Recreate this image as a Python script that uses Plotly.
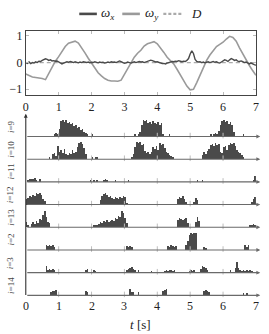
import plotly.graph_objects as go

# ---------------- top panel data ----------------
t_wy = [round(0.1 * k, 2) for k in range(71)]
omega_y = [-0.43, -0.50, -0.54, -0.56, -0.57, -0.60, -0.64, -0.42, -0.15, 0.05,
           0.22, 0.42, 0.60, 0.72, 0.76, 0.80, 0.73, 0.56, 0.36, 0.16,
           -0.02, -0.20, -0.38, -0.50, -0.60, -0.66, -0.69, -0.69, -0.70, -0.66,
           -0.45, -0.20, 0.00, 0.20, 0.35, 0.46, 0.62, 0.70, 0.74, 0.78,
           0.70, 0.55, 0.38, 0.20, 0.07, -0.05, -0.25, -0.45, -0.68, -0.88,
           -1.02, -1.00, -0.75, -0.45, -0.15, 0.08, 0.28, 0.45, 0.60, 0.68,
           0.76, 0.88, 0.98, 0.94, 0.80, 0.55, 0.31, 0.10, -0.11, -0.30,
           -0.48]

t_wx = [round(0.05 * k, 2) for k in range(141)]
omega_x = [0.00, -0.03, 0.02, -0.04, 0.00, -0.02, 0.03, 0.00, 0.05, 0.04,
           0.08, 0.10, 0.14, 0.12, 0.08, 0.10, 0.06, 0.07, 0.05, 0.06,
           0.02, -0.02, -0.05, -0.02, 0.00, 0.03, 0.01, 0.04, 0.02, 0.00,
           0.03, 0.01, -0.01, 0.02, 0.00, 0.03, 0.01, 0.00, 0.02, -0.01,
           0.01, 0.00, 0.03, 0.01, -0.01, 0.02, 0.00, 0.01, -0.02, 0.00,
           0.02, 0.00, 0.03, 0.01, 0.02, 0.00, 0.04, 0.06, 0.03, 0.00,
           -0.03, -0.01, 0.02, 0.00, -0.02, 0.01, 0.03, 0.00, 0.02, 0.04,
           0.02, 0.03, 0.00, 0.02, 0.04, 0.06, 0.09, 0.07, 0.04, 0.02,
           0.03, 0.00, -0.02, -0.04, -0.03, -0.05, -0.02, 0.00, 0.02, 0.04,
           0.03, 0.05, 0.04, 0.07, 0.05, 0.03, 0.05, 0.04, 0.08, 0.15,
           0.32, 0.44, 0.34, 0.12, 0.04, 0.02, 0.03, 0.00, 0.02, -0.01,
           0.01, 0.03, 0.00, 0.02, 0.04, 0.01, 0.03, 0.00, -0.02, 0.02,
           0.05, 0.10, 0.08, 0.04, 0.10, 0.15, 0.12, 0.08, 0.10, 0.05,
           0.04, 0.06, 0.03, 0.00, 0.02, -0.03, -0.05, -0.02, -0.06, -0.08,
           -0.10]

t_D = [0, 7]
D_vals = [0, 0]

x_ticks = [0, 1, 2, 3, 4, 5, 6, 7]
y_ticks_top = [-1, 0, 1]

# ---------------- bottom panel data (activity per 0.05 s bin, 7 rows x 20 bins) ----------------
Z = [0] * 20
strip_names = ["9", "10", "11", "12", "13", "2", "3", "14"]
act_9 = [
    [0,0,0,0,0,0,0,0,0,0,0,0,0,0,0,0,0,3,4,2],
    [8,16,17,15,17,14,15,13,14,11,12,9,10,7,8,5,4,2,0,0],
    [2,0,0,0,0,0,0,0,0,0,0,0,0,0,0,0,0,0,0,0],
    [0,0,0,0,0,0,2,0,3,5,12,17,16,17,14,15,13,16,14,13],
    [15,12,14,3,0,0,0,2,0,0,0,0,0,0,0,0,0,0,0,0],
    [0,0,0,0,0,0,0,0,0,0,0,0,2,0,3,4,3,6,12,16],
    [17,15,16,13,15,12,5,0,0,0,0,0,2,0,0,0,0,0,0,0]]
act_10 = [
    [0,0,0,0,0,0,0,0,0,0,0,0,0,0,2,0,5,6,3,13],
    [7,9,6,10,5,4,6,5,9,6,7,12,16,17,15,11,5,0,0,0],
    [2,0,2,2,0,0,0,0,0,0,0,0,0,0,0,0,0,0,0,0],
    [0,0,0,0,2,5,12,17,16,17,14,15,8,6,7,5,7,12,10,13],
    [9,16,14,15,11,7,6,4,3,2,0,0,0,0,0,0,0,0,0,0],
    [0,0,0,0,0,0,0,4,7,5,8,10,14,15,13,16,14,15,7,6],
    [12,13,9,14,16,15,16,13,9,7,6,4,2,0,0,0,0,0,0,0]]
act_11 = [
    [0,2,3,3,3,4,2,0,3,0,0,0,0,0,0,0,0,0,0,0],
    [0,0,0,0,0,0,0,0,0,0,0,0,0,0,0,0,0,0,0,2],
    [0,2,0,2,0,0,0,2,3,2,0,0,0,0,2,0,0,0,0,0],
    [0,0,2,0,0,0,0,0,0,0,0,0,0,0,0,0,0,0,0,0],
    Z,
    [0,0,0,0,2,0,0,2,0,0,0,0,0,0,0,0,0,0,0,0],
    [0,0,0,0,0,0,0,0,0,0,0,0,0,0,0,0,0,0,2,6]]
act_12 = [
    [6,7,9,8,10,9,12,11,12,10,6,4,0,0,0,0,0,0,0,0],
    Z,
    [0,0,0,0,0,5,9,11,12,10,8,9,7,6,8,7,6,8,7,9],
    [8,2,0,0,0,0,0,0,0,0,0,0,0,0,0,0,0,0,0,0],
    [0,0,0,0,0,0,0,0,0,0,0,0,6,8,7,9,6,3,0,0],
    [0,0,3,7,5,0,0,0,0,0,0,0,0,0,0,0,0,0,0,0],
    [0,0,0,0,0,0,0,0,0,0,0,0,0,0,0,0,0,3,6,8]]
act_13 = [
    [5,2,0,3,5,3,6,4,8,7,12,16,10,5,4,0,0,0,0,0],
    Z,
    [0,2,2,2,3,5,4,6,5,7,5,6,7,6,9,8,11,10,16,14],
    [9,4,0,0,0,0,0,0,0,0,0,0,0,0,0,0,0,0,0,0],
    [0,0,0,0,0,0,0,0,0,0,0,0,7,9,8,7,8,9,4,0],
    [0,0,0,5,10,6,0,0,0,0,0,0,0,0,0,0,0,0,0,0],
    [0,0,0,0,0,0,0,0,0,0,0,0,0,0,0,0,2,2,3,2]]
act_2 = [
    [0,0,0,0,0,0,0,0,0,0,0,0,5,4,5,4,5,3,0,0],
    Z,
    Z,
    [0,4,3,4,3,0,0,0,0,0,0,0,0,0,0,0,0,0,0,0],
    [0,0,0,0,0,0,4,3,5,4,3,4,0,0,0,0,0,5,9,15],
    [17,16,17,17,0,0,0,0,3,2,0,0,0,0,0,0,0,0,0,0],
    [0,0,0,0,0,0,0,0,0,0,0,0,0,5,3,5,0,0,0,0]]
act_3 = [
    [0,0,0,0,0,0,0,0,0,0,0,0,7,3,4,3,4,3,0,0],
    [0,0,0,0,0,0,0,0,0,0,0,0,0,0,0,0,3,4,0,0],
    [0,3,2,0,0,0,0,0,0,0,0,0,0,0,0,0,0,0,0,0],
    [0,3,4,5,6,4,3,0,3,0,0,0,0,0,0,0,2,0,0,0],
    [0,0,0,0,2,3,2,3,3,2,3,0,0,0,0,0,0,0,0,2],
    [3,2,3,0,0,0,4,7,6,5,3,0,0,0,0,0,0,0,0,0],
    [0,0,0,0,3,0,0,5,11,5,3,2,3,2,3,2,3,2,0,0]]
act_14 = [
    [0,0,0,0,0,0,0,0,0,0,0,0,0,0,0,3,4,4,5,0],
    [0,0,0,0,0,0,0,0,0,0,0,0,0,0,0,0,4,3,0,0],
    Z,
    [0,0,0,6,3,3,0,0,3,0,0,0,0,0,0,0,0,0,0,0],
    [0,0,0,4,5,6,0,0,0,0,0,0,0,0,0,0,0,0,0,0],
    [0,0,0,0,0,0,0,0,4,5,4,3,0,0,0,0,0,0,0,0],
    [0,0,0,0,0,0,0,0,0,0,0,0,2,0,2,0,0,0,0,0]]
strips = [act_9, act_10, act_11, act_12, act_13, act_2, act_3, act_14]

BIN = 0.05
W, H = 269, 334
def px(x):
    return x / W
def py(y):
    return 1 - y / H

SERIF = "Liberation Serif, DejaVu Serif, serif"
DARK = "#4a4a4a"
LIGHT = "#9a9a9a"

fig = go.Figure()

# top panel
fig.add_trace(go.Scatter(x=t_D, y=D_vals, mode="lines", line=dict(color="#aaaaaa", width=1.3, dash="4px,3px"),
                         xaxis="x", yaxis="y", showlegend=False, hoverinfo="skip"))
fig.add_trace(go.Scatter(x=t_wy, y=omega_y, mode="lines", line=dict(color=LIGHT, width=1.6),
                         xaxis="x", yaxis="y", showlegend=False, hoverinfo="skip"))
fig.add_trace(go.Scatter(x=t_wx, y=omega_x, mode="lines", line=dict(color=DARK, width=1.4),
                         xaxis="x", yaxis="y", showlegend=False, hoverinfo="skip"))

# bottom panel
n = len(strips)
PITCH_PX = 22.9
SCALE = 1.0 / PITCH_PX
annotations = []
shapes = []
tick_x, tick_y = [], []
for idx, (name, rows) in enumerate(zip(strip_names, strips)):
    vals = [v for r in rows for v in r]
    offset = n - 1 - idx
    xs = [BIN * (k + 0.5) for k in range(len(vals))]
    fig.add_trace(go.Bar(x=xs, y=[v * SCALE for v in vals], base=[offset] * len(vals), width=BIN,
                         marker=dict(color=DARK, line=dict(width=0)), xaxis="x2", yaxis="y2",
                         showlegend=False, hoverinfo="skip"))
    annotations.append(dict(x=7.13, y=offset, ax=0, ay=offset, xref="x2", yref="y2", axref="x2", ayref="y2",
                            text="", showarrow=True, arrowhead=2, arrowsize=0.7, arrowwidth=1.1,
                            arrowcolor="#6a6a6a", standoff=0, startstandoff=0))
    annotations.append(dict(x=px(8), y=offset + 0.45, xref="paper", yref="y2", text="<i>i</i>=" + name,
                            textangle=-90, showarrow=False, font=dict(family=SERIF, size=9, color="#444"),
                            xanchor="center", yanchor="middle"))
    for tk in x_ticks[1:-1]:
        tick_x.append(tk)
        tick_y.append(offset + 0.04)

fig.add_trace(go.Scatter(x=tick_x, y=tick_y, mode="markers",
                         marker=dict(symbol="line-ns", size=4, line=dict(width=1, color="#bdbdbd")),
                         xaxis="x2", yaxis="y2", showlegend=False, hoverinfo="skip"))

annotations.append(dict(x=0, y=8.0, ax=0, ay=-0.05, xref="x2", yref="y2", axref="x2", ayref="y2",
                        text="", showarrow=True, arrowhead=2, arrowsize=0.7, arrowwidth=1.1,
                        arrowcolor="#333", standoff=0, startstandoff=0))

# manual legend
leg_y = py(12)
items = [(78, 96, DARK, "solid", "<i>ω</i><sub><i>x</i></sub>", 98),
         (122, 140, LIGHT, "solid", "<i>ω</i><sub><i>y</i></sub>", 143),
         (164, 183, "#aaaaaa", "dot", "<i>D</i>", 190)]
for x0, x1, col, dash, label, tx in items:
    shapes.append(dict(type="line", xref="paper", yref="paper", x0=px(x0), x1=px(x1), y0=leg_y, y1=leg_y,
                       line=dict(color=col, width=2.6 if dash == "solid" else 2.2,
                                 dash="solid" if dash == "solid" else "3px,2px")))
    annotations.append(dict(x=px(tx), y=leg_y, xref="paper", yref="paper", text=label, showarrow=False,
                            xanchor="left", yanchor="middle", font=dict(family=SERIF, size=13, color="#222")))

# bottom tick labels and axis title
for tk in x_ticks:
    annotations.append(dict(x=tk, y=py(307), xref="x2", yref="paper", text=str(tk), showarrow=False,
                            xanchor="center", yanchor="middle", font=dict(family=SERIF, size=12, color="#222")))
annotations.append(dict(x=3.5, y=py(325), xref="x2", yref="paper", text="<i>t</i> [s]", showarrow=False,
                        xanchor="center", yanchor="middle", font=dict(family=SERIF, size=13, color="#222")))

fig.update_layout(
    width=W, height=H, autosize=False,
    margin=dict(l=0, r=0, t=0, b=0),
    paper_bgcolor="white", plot_bgcolor="white",
    barmode="overlay", bargap=0,
    hovermode=False,
    font=dict(family=SERIF, size=12, color="#222"),
    xaxis=dict(domain=[px(23.3), px(258.7)], range=[0, 7], tickvals=x_ticks, anchor="y",
               showline=True, linecolor="#444", linewidth=1, mirror="allticks",
               ticks="inside", ticklen=3, tickcolor="#bbbbbb", showgrid=False, zeroline=False,
               tickfont=dict(family=SERIF, size=12)),
    yaxis=dict(domain=[py(94), py(29)], range=[-1.22, 1.19], tickvals=y_ticks_top, anchor="x",
               showline=True, linecolor="#444", linewidth=1, mirror="allticks",
               ticks="inside", ticklen=3, tickcolor="#bbbbbb", showgrid=False, zeroline=False,
               tickfont=dict(family=SERIF, size=12)),
    xaxis2=dict(domain=[px(23.3), px(258.7)], range=[0, 7], anchor="y2",
                showline=False, ticks="", showticklabels=False, showgrid=False, zeroline=False),
    yaxis2=dict(domain=[py(298.3), py(112.8)], range=[-0.1, 8.0], anchor="x2",
                showline=False, ticks="", showticklabels=False, showgrid=False, zeroline=False),
    annotations=annotations,
    shapes=shapes,
)

fig.write_html("out.html", config={"displayModeBar": False, "staticPlot": True},
               post_script="document.body.style.margin='0';document.body.style.padding='0';")
